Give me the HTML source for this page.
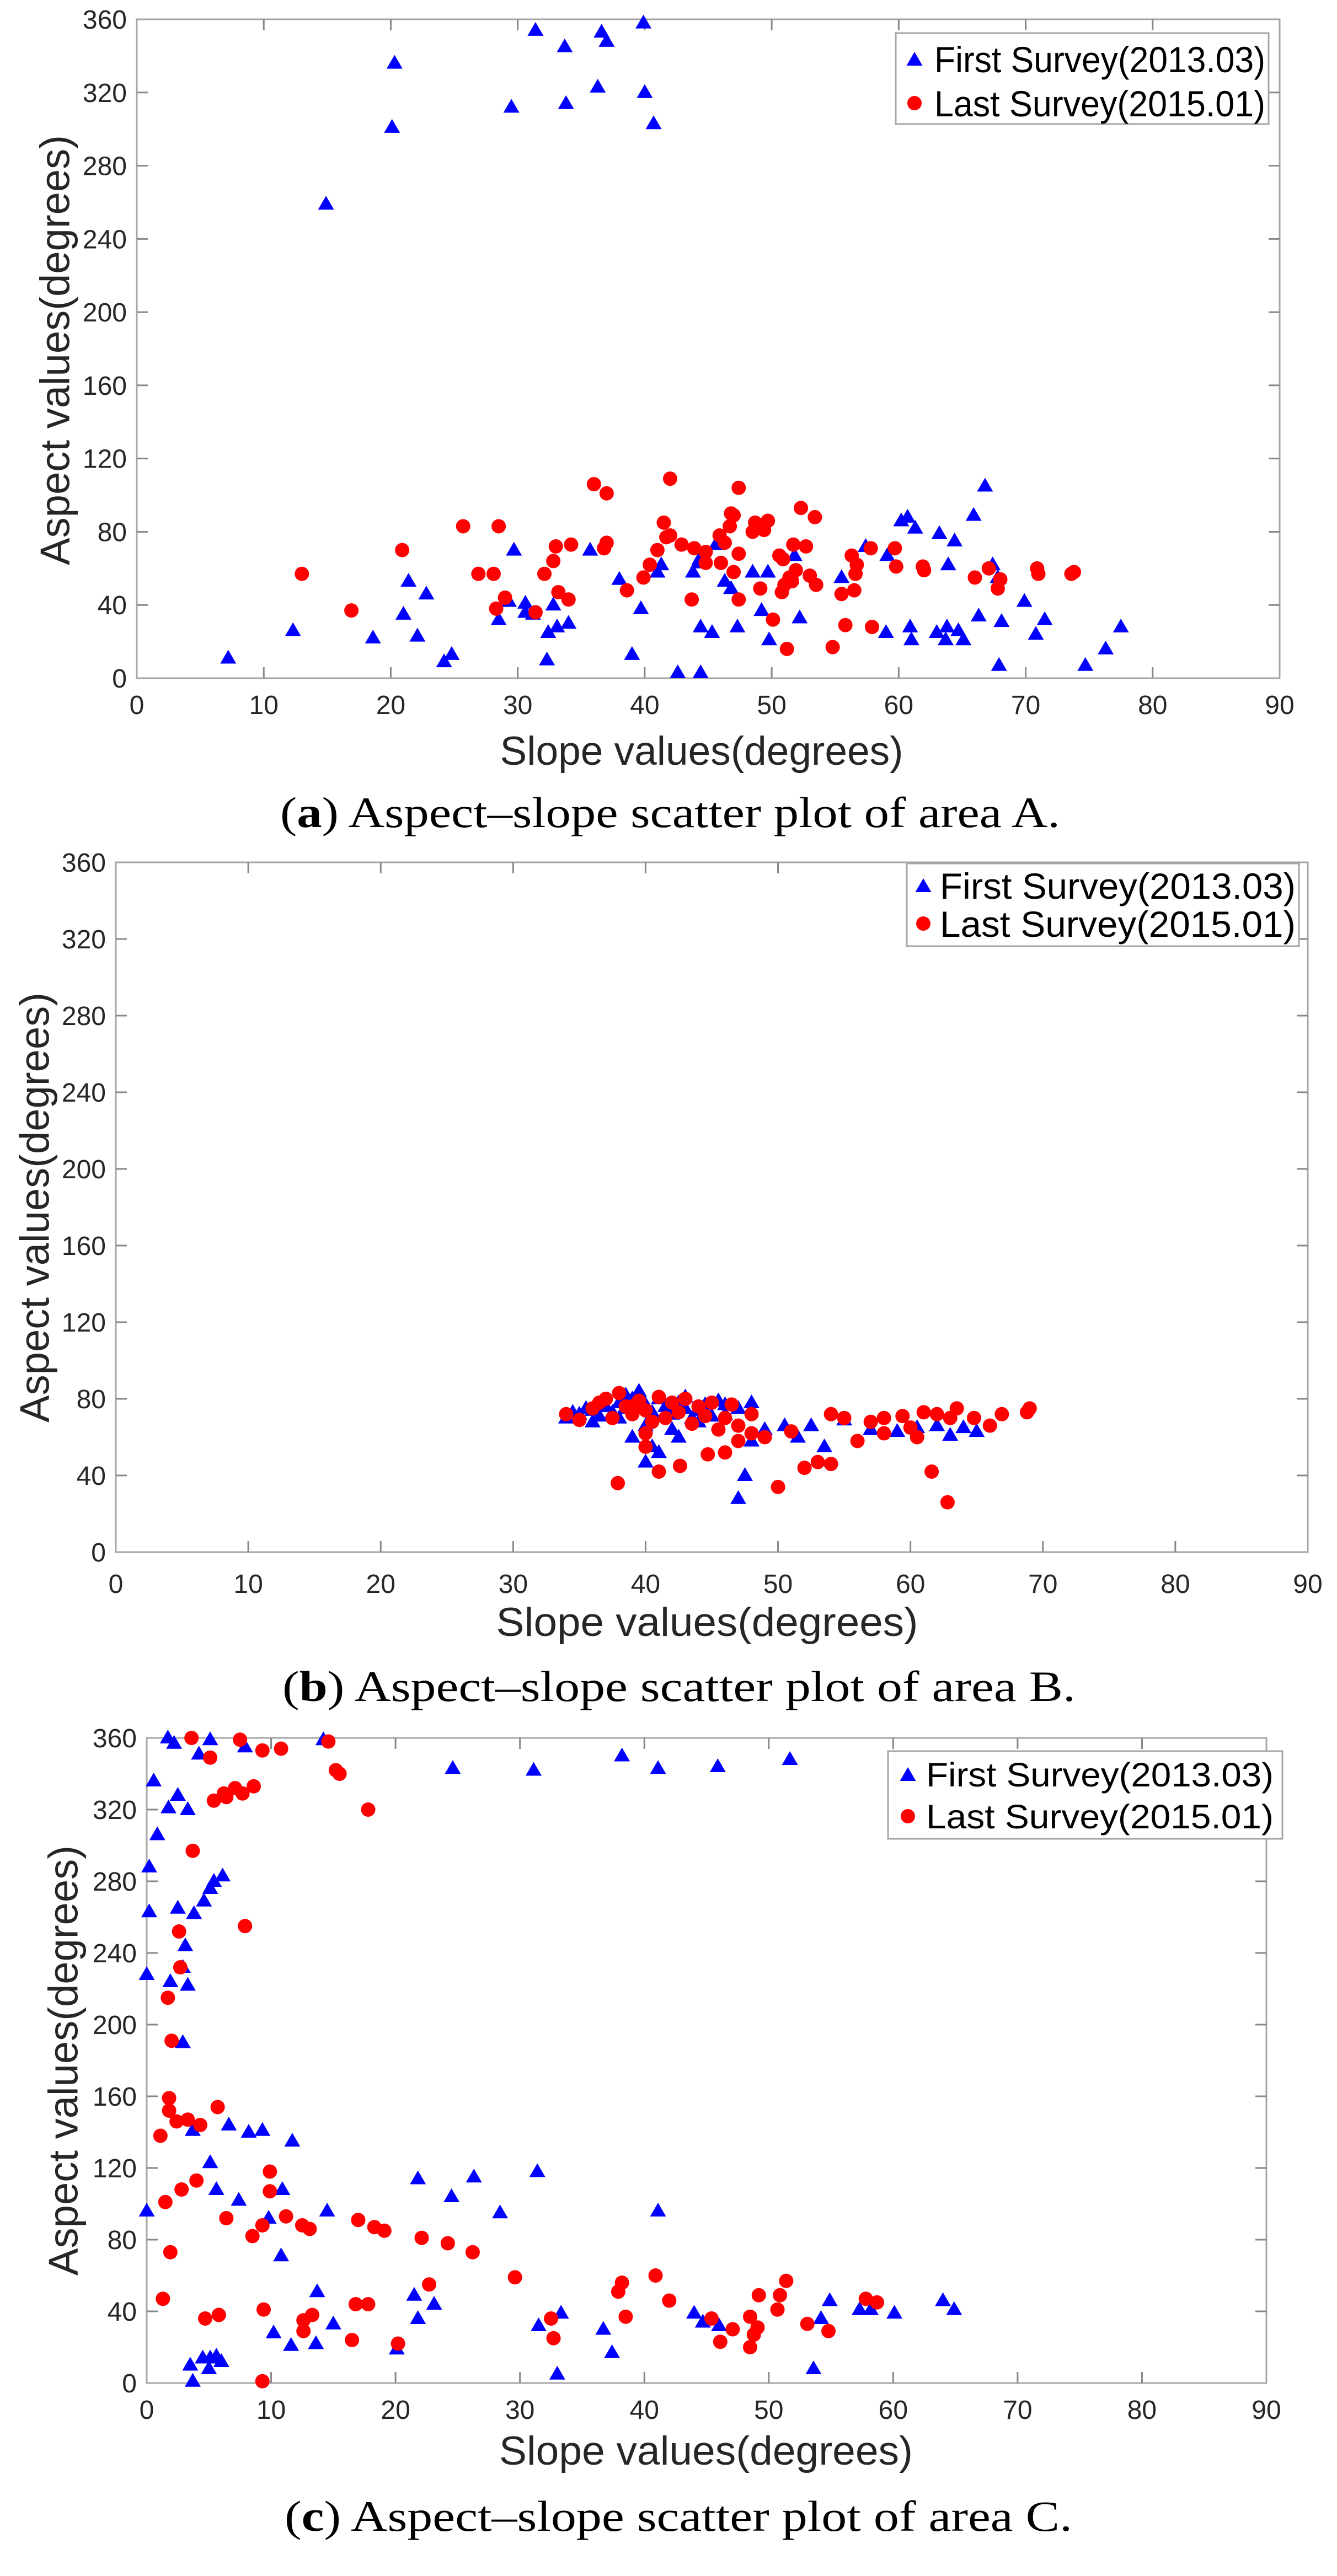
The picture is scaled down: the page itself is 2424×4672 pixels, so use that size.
<!DOCTYPE html>
<html><head><meta charset="utf-8"><style>
html,body{margin:0;padding:0;background:#fff;}
svg{display:block;}
</style></head><body>
<svg id="s" xmlns="http://www.w3.org/2000/svg" width="2424" height="4672" viewBox="0 0 2424 4672">
<rect width="2424" height="4672" fill="#fff"/>
<g id="g"></g>
<text x="508" y="1500" font-family="Liberation Serif, serif" font-size="78" textLength="1414" lengthAdjust="spacingAndGlyphs" fill="#000">(<tspan font-weight="bold">a</tspan>) Aspect–slope scatter plot of area A.</text>
<text x="512" y="3085" font-family="Liberation Serif, serif" font-size="78" textLength="1438" lengthAdjust="spacingAndGlyphs" fill="#000">(<tspan font-weight="bold">b</tspan>) Aspect–slope scatter plot of area B.</text>
<text x="516" y="4590" font-family="Liberation Serif, serif" font-size="78" textLength="1428" lengthAdjust="spacingAndGlyphs" fill="#000">(<tspan font-weight="bold">c</tspan>) Aspect–slope scatter plot of area C.</text>
</svg>
<script>
var NS="http://www.w3.org/2000/svg",G=document.getElementById("g");
function el(t,a,txt){var e=document.createElementNS(NS,t);for(var k in a)e.setAttribute(k,a[k]);if(txt!=null)e.textContent=txt;G.appendChild(e);return e;}
function tri(x,y){el("polygon",{points:(x)+","+(y-15)+" "+(x-14.5)+","+(y+10)+" "+(x+14.5)+","+(y+10),fill:"#0000ff"});}
function cir(x,y){el("circle",{cx:x,cy:y,r:13,fill:"#ff0000"});}
var F="Liberation Sans, sans-serif";
function plot(c){
 var L=c.L,R=c.R,T=c.T,B=c.B,sx=(R-L)/90,sy=(B-T)/360;
 function X(v){return L+v*sx;} function Y(v){return B-v*sy;}
 el("rect",{x:L,y:T,width:R-L,height:B-T,fill:"none",stroke:"#a6a6a6","stroke-width":3});
 for(var i=0;i<=9;i++){var x=X(i*10);
  if(i>0&&i<9){el("line",{x1:x,y1:B,x2:x,y2:B-20,stroke:"#888","stroke-width":3});el("line",{x1:x,y1:T,x2:x,y2:T+20,stroke:"#888","stroke-width":3});}
  el("text",{x:x,y:c.xt,"font-family":F,"font-size":48,"text-anchor":"middle",fill:"#262626"},String(i*10));}
 for(var j=0;j<=9;j++){var y=Y(j*40);
  if(j>0&&j<9){el("line",{x1:L,y1:y,x2:L+20,y2:y,stroke:"#888","stroke-width":3});el("line",{x1:R,y1:y,x2:R-20,y2:y,stroke:"#888","stroke-width":3});}
  el("text",{x:L-18,y:y+17,"font-family":F,"font-size":48,"text-anchor":"end",fill:"#262626"},String(j*40));}
 c.b.forEach(function(p){tri(X(p[0]),Y(p[1]));});
 c.r.forEach(function(p){cir(X(p[0]),Y(p[1]));});
 var lg=c.lg;
 el("rect",{x:lg.x,y:lg.y,width:lg.w,height:lg.h,fill:"#fff",stroke:"#a6a6a6","stroke-width":3});
 tri(lg.mx,lg.l1+2);cir(lg.mx,lg.l2);
 el("text",{x:lg.tx,y:lg.l1+lg.fs*0.36,"font-family":F,"font-size":lg.fs,textLength:lg.tl,lengthAdjust:"spacingAndGlyphs",fill:"#000"},"First Survey(2013.03)");
 el("text",{x:lg.tx,y:lg.l2+lg.fs*0.36,"font-family":F,"font-size":lg.fs,textLength:lg.tl,lengthAdjust:"spacingAndGlyphs",fill:"#000"},"Last Survey(2015.01)");
 el("text",{x:c.xl[0],y:c.xl[1],"font-family":F,"font-size":73,"text-anchor":"middle",textLength:c.xl[2],lengthAdjust:"spacingAndGlyphs",fill:"#262626"},"Slope values(degrees)");
 el("text",{x:0,y:75*0.27,transform:"translate("+c.yl[0]+","+c.yl[1]+") rotate(-90)","font-family":F,"font-size":75,"text-anchor":"middle",textLength:c.yl[2],lengthAdjust:"spacingAndGlyphs",fill:"#262626"},"Aspect values(degrees)");
}
var Ab=[[7.2,11],[12.3,26],[14.9,259],[18.6,22],[20.1,301],[20.3,336],[21,35],[21.4,53],[22.1,23],[22.8,46],[24.2,9],[24.8,13],[28.5,32],[29.3,42],[29.5,312],[29.7,70],[30.6,41],[30.6,36],[31.2,35],[31.4,354],[32.3,10],[32.4,25],[32.8,40],[33.1,28],[33.7,345],[33.8,314],[34,30],[35.7,70],[36.3,323],[36.6,353],[37,348],[38,54],[39,13],[39.7,38],[39.9,358],[40,320],[40.7,303],[41,58],[41.3,62],[42.6,3],[43.8,58],[44.2,63],[44.3,65],[44.4,3],[44.4,28],[45.3,25],[45.6,73],[46.3,53],[46.8,49],[47.3,28],[48.5,58],[49.2,37],[49.7,58],[49.8,21],[51.8,67],[52.2,33],[55.5,55],[57.4,72],[59.1,67],[59,25],[60.2,86],[60.7,88],[60.9,28],[61,21],[61.3,82],[63.2,79],[63,25],[63.8,28],[63.9,62],[63.7,21],[64.4,75],[64.7,26],[65.1,21],[65.9,89],[66.3,34],[66.8,105],[67.4,62],[67.8,55],[67.9,7],[68.1,31],[69.9,42],[70.8,24],[71.5,32],[74.7,7],[76.3,16],[77.5,28]];
var Ar=[[13,57],[16.9,37],[20.9,70],[25.7,83],[26.9,57],[28.1,57],[28.3,38],[28.5,83],[29,44],[31.4,36],[32.1,57],[32.8,64],[33,72],[33.2,47],[34,43],[34.2,73],[36,106],[36.8,71],[37,101],[37,74],[38.6,48],[39.9,55],[40.4,62],[41,70],[41.5,85],[41.7,77],[42,109],[42,78],[42.9,73],[43.7,43],[43.9,71],[44.8,69],[44.8,63],[45.9,78],[46,63],[46.3,74],[46.7,83],[46.8,90],[47,89],[47,58],[47.4,43],[47.4,104],[47.4,68],[48.5,80],[48.7,85],[49.1,49],[49.4,81],[49.7,86],[50.1,32],[50.6,67],[50.8,47],[50.9,65],[51,51],[51.2,16],[51.4,55],[51.6,53],[51.7,73],[51.9,59],[52.3,93],[52.7,72],[53,56],[53.4,88],[53.5,51],[54.8,17],[55.5,46],[55.8,29],[56.3,67],[56.5,48],[56.6,57],[56.7,62],[57.8,71],[57.9,28],[59.7,71],[59.8,61],[61.9,61],[62,59],[66,55],[67.1,60],[67.8,49],[68,54],[70.9,60],[71,57],[73.6,57],[73.8,58]];
plot({L:248,R:2320,T:35,B:1230,xt:1295,b:Ab,r:Ar,
 lg:{x:1624,y:60,w:676,h:165,mx:1658,tx:1694,l1:107,l2:187,fs:66,tl:600},
 xl:[1272,1387,731],yl:[105,635,780]});
var Bb=[[34,70],[34.5,73],[35,72],[35.5,75],[36,74],[36.5,71],[37,76],[37.5,73],[38,78],[38.5,75],[39,80],[39.5,84],[40,77],[40.5,73],[41,80],[41.5,76],[42,72],[42.5,78],[43,75],[43.5,70],[44,74],[44.5,77],[45,71],[46,77],[47,75],[48,78],[36,68],[38,70],[40,66],[42,64],[44,68],[46,72],[39,60],[40,47],[40.5,55],[41,52],[42.5,60],[47,28],[47.5,40],[48,58],[50.5,66],[51.5,60],[52.5,66],[53.5,55],[55,69],[57,64],[59,63],[60.5,65],[62,66],[63,61],[64,65],[65,63],[38.5,82],[45.5,79],[49,64],[43,81]];
var Br=[[34,72],[35,69],[36,75],[37,80],[37.5,70],[38,83],[38.5,76],[39,72],[39.5,79],[40,74],[40.5,68],[41,81],[41.5,70],[42,78],[42.5,73],[43,80],[43.5,67],[44,76],[44.5,71],[45,78],[45.5,64],[46,70],[46.5,77],[47,66],[48,72],[37.9,36],[40,55],[40,62],[41,42],[42.6,45],[44.7,51],[46,52],[47,58],[48,62],[49,60],[50,34],[51,63],[52,44],[53,47],[54,46],[54,72],[55,70],[56,58],[57,68],[58,70],[59.4,71],[60,65],[61,73],[62,72],[63,70],[63.5,75],[64.8,70],[66,66],[66.9,72],[68.8,73],[69,75],[61.6,42],[62.8,26],[58,62],[60.5,60],[39,76],[36.5,78]];
plot({L:210,R:2371,T:1564,B:2815,xt:2889,b:Bb,r:Br,
 lg:{x:1644,y:1566,w:711,h:150,mx:1674,tx:1704,l1:1606,l2:1675,fs:66,tl:645},
 xl:[1282,2967,765],yl:[68,2190,780]});
var Cb=[[1.7,360],[2.2,357],[5.1,359],[4.2,351],[7.9,355],[14.2,359],[24.6,343],[0.56,336],[2.5,328],[1.75,321],[3.3,320],[0.85,306],[0.2,288],[6.1,283],[5.4,280],[5.1,276],[4.6,269],[0.2,263],[2.5,265],[3.8,262],[3.1,244],[2.9,232],[0,228],[1.9,224],[3.3,222],[2.9,190],[3.7,141],[6.6,144],[8.2,140],[9.3,141],[11.7,135],[5.1,123],[10.9,108],[5.6,108],[7.4,102],[0,96],[9.8,92],[14.5,96],[21.8,114],[24.5,104],[10.8,71],[13.7,51],[21.5,49],[23.1,44],[21.8,36],[15,33],[10.2,28],[11.6,21],[13.6,22],[20.1,19],[3.5,10],[4.5,14],[5.1,14],[5.6,15],[6,12],[5,8],[3.7,1],
[31.1,342],[38.2,350],[41.1,343],[45.9,344],[51.7,348],[26.3,115],[31.4,118],[28.4,95],[41.1,96],[33.3,39],[31.5,32],[33,5],[36.7,30],[37.4,17],[44,39],[44.7,34],[46,32],[53.6,8],[54.2,36],[54.9,46],[57.3,41],[58.2,41],[60.1,39],[64,46],[64.9,41]];
var Cr=[[3.6,360],[7.5,359],[9.3,353],[10.8,354],[14.6,358],[5.1,349],[15.2,342],[15.5,340],[5.4,325],[6.2,329],[6.4,327],[7.1,332],[7.7,329],[8.6,333],[17.8,320],[3.7,297],[7.9,255],[2.6,252],[2.7,232],[1.7,215],[2,191],[1.8,159],[1.8,152],[2.4,146],[3.3,147],[4.3,144],[5.7,154],[1.1,138],[9.9,118],[9.9,107],[4,113],[2.8,108],[1.5,101],[6.4,92],[11.2,93],[12.5,88],[13.1,86],[9.3,88],[8.5,82],[17,91],[18.3,87],[19.1,85],[22.1,81],[24.2,78],[1.9,73],[1.3,47],[4.7,36],[5.8,38],[9.4,41],[12.6,35],[13.3,38],[12.6,29],[16.5,24],[16.8,44],[17.8,44],[22.7,55],[20.2,22],[9.3,1],
[26.2,73],[29.6,59],[32.5,36],[32.7,25],[38.2,56],[37.9,51],[38.5,37],[40.9,60],[42,46],[45.4,36],[46.1,23],[47.1,30],[48.5,37],[49.1,31],[48.8,27],[48.5,20],[49.2,49],[50.9,49],[51.4,57],[50.7,41],[53.1,33],[54.8,29],[57.8,47],[58.7,45]];
plot({L:266,R:2296,T:3152,B:4322,xt:4387,b:Cb,r:Cr,
 lg:{x:1610,y:3176,w:715,h:159,mx:1646,tx:1679,l1:3218,l2:3294,fs:61,tl:630},
 xl:[1280,4470,750],yl:[120,3737,780]});
</script>
</body></html>
